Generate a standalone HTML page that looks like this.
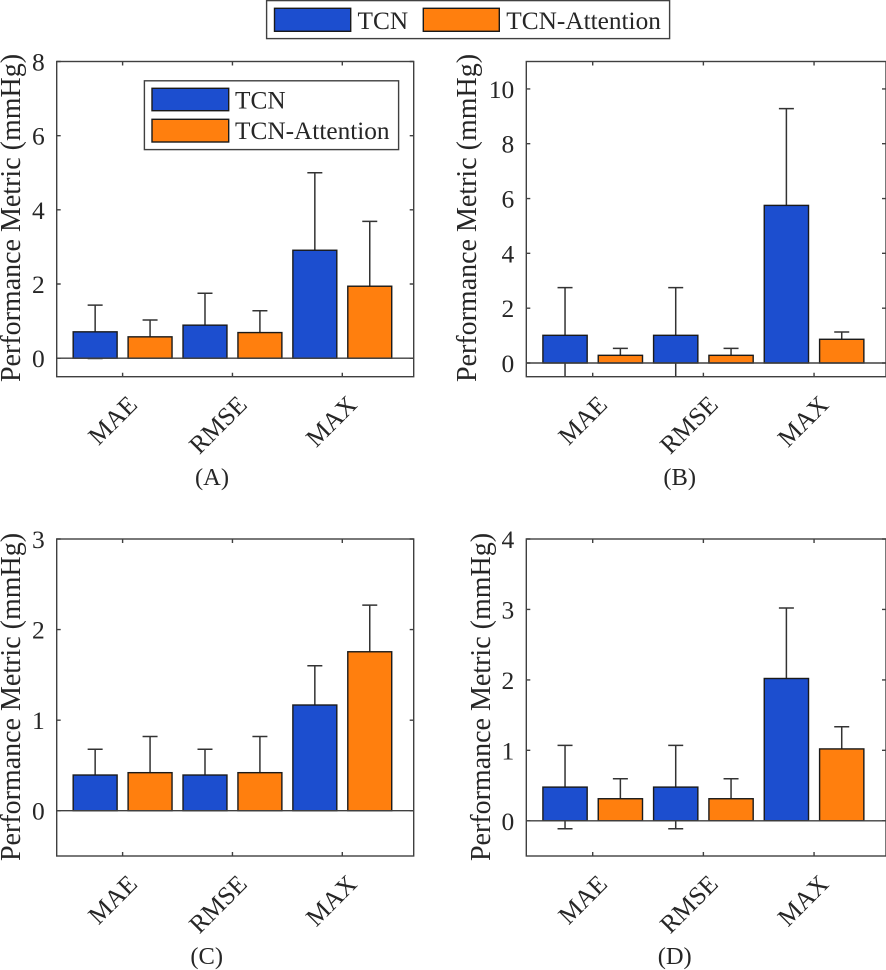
<!DOCTYPE html>
<html lang="en">
<head>
<meta charset="utf-8">
<title>TCN vs TCN-Attention performance metrics</title>
<style>
html,body{margin:0;padding:0;background:#fff;width:886px;height:970px;overflow:hidden}
svg{display:block;font-family:"Liberation Serif",serif;fill:#262626}
text{font-size:24.5px}
.ylab{font-size:28px}
.leg{font-size:25.3px}
.tick{font-size:25.5px}
.cat{font-size:25.5px}
</style>
</head>
<body>
<svg id="fig" xmlns="http://www.w3.org/2000/svg" width="886" height="970" viewBox="0 0 886 970">
  <defs>
    <clipPath id="clip-a"><rect x="56.7" y="61.5" width="357" height="315.2"/></clipPath>
    <clipPath id="clip-b"><rect x="526.3" y="61.5" width="359.7" height="315.2"/></clipPath>
    <clipPath id="clip-c"><rect x="56.7" y="539" width="357" height="317"/></clipPath>
    <clipPath id="clip-d"><rect x="526.3" y="539" width="359.7" height="317"/></clipPath>
  </defs>
  <g id="panels"></g>

  <g>
    <rect x="266.6" y="0.6" width="403" height="38" fill="#fff" stroke="#404040" stroke-width="1.4"/>
    <rect x="274.5" y="8.3" width="76.2" height="23" fill="#1c4ecf" stroke="#1a1a1a" stroke-width="1.4"/>
    <text class="leg" x="357.5" y="29">TCN</text>
    <rect x="423.3" y="8.3" width="76" height="23" fill="#ff7f0e" stroke="#1a1a1a" stroke-width="1.4"/>
    <text class="leg" x="506.3" y="29">TCN-Attention</text>
  </g>

  <g>
    <rect x="144.4" y="80.8" width="254.2" height="68.8" fill="#fff" stroke="#404040" stroke-width="1.4"/>
    <rect x="152" y="88.3" width="76.7" height="22.4" fill="#1c4ecf" stroke="#1a1a1a" stroke-width="1.4"/>
    <text class="leg" x="235" y="108.3">TCN</text>
    <rect x="152" y="119.3" width="76.7" height="22.7" fill="#ff7f0e" stroke="#1a1a1a" stroke-width="1.4"/>
    <text class="leg" x="235" y="139">TCN-Attention</text>
  </g>

  <text class="ylab" transform="translate(20,218) rotate(-90)" text-anchor="middle">Performance Metric (mmHg)</text>
  <text class="ylab" transform="translate(476,218) rotate(-90)" text-anchor="middle">Performance Metric (mmHg)</text>
  <text class="ylab" transform="translate(20,697) rotate(-90)" text-anchor="middle">Performance Metric (mmHg)</text>
  <text class="ylab" transform="translate(490,697) rotate(-90)" text-anchor="middle">Performance Metric (mmHg)</text>

  <text x="212" y="485" text-anchor="middle">(A)</text>
  <text x="679.7" y="485" text-anchor="middle">(B)</text>
  <text x="206.7" y="964" text-anchor="middle">(C)</text>
  <text x="674.7" y="964" text-anchor="middle">(D)</text>
</svg>
<script>
const categories = ['MAE', 'RMSE', 'MAX'];

const tcnA = [0.71, 0.89, 2.91];
const tcnSdA = [0.72, 0.86, 2.09];
const attnA = [0.575, 0.69, 1.94];
const attnSdA = [0.455, 0.59, 1.75];
const yTicksA = [0, 2, 4, 6, 8];
const yLimA = [-0.5, 8];

const tcnB = [1.01, 1.01, 5.75];
const tcnSdB = [1.74, 1.74, 3.53];
const attnB = [0.28, 0.28, 0.865];
const attnSdB = [0.255, 0.255, 0.265];
const yTicksB = [0, 2, 4, 6, 8, 10];
const yLimB = [-0.5, 11];

const tcnC = [0.394, 0.394, 1.167];
const tcnSdC = [0.284, 0.284, 0.433];
const attnC = [0.42, 0.42, 1.755];
const attnSdC = [0.40, 0.40, 0.515];
const yTicksC = [0, 1, 2, 3];
const yLimC = [-0.5, 3];

const tcnD = [0.478, 0.478, 2.02];
const tcnSdD = [0.592, 0.592, 1.0];
const attnD = [0.313, 0.313, 1.02];
const attnSdD = [0.284, 0.284, 0.315];
const yTicksD = [0, 1, 2, 3, 4];
const yLimD = [-0.5, 4];

const xLim = [0.4, 3.65];
const groupOffset = 0.25;
const barWidth = 0.4;
const NS = 'http://www.w3.org/2000/svg';
const AXIS = '#404040';
const EDGE = '#1a1a1a';

function make(tag, parent, attrs) {
  const e = document.createElementNS(NS, tag);
  for (const k in attrs) e.setAttribute(k, attrs[k]);
  parent.appendChild(e);
  return e;
}

function drawPanel(id, box, yLim, yTicks, tcn, tcnSd, attn, attnSd, root) {
  const g = make('g', root, {});
  
  

  const xs = v => box.l + (v - xLim[0]) / (xLim[1] - xLim[0]) * (box.r - box.l);
  const ys = v => box.b - (v - yLim[0]) / (yLim[1] - yLim[0]) * (box.b - box.t);

  const plot = make('g', g, {'clip-path': 'url(#clip-' + id + ')'});
  
  

  const series = [
    {key: 'tcn', off: -groupOffset, vals: tcn, sds: tcnSd, fill: '#1c4ecf'},
    {key: 'attention', off: groupOffset, vals: attn, sds: attnSd, fill: '#ff7f0e'}
  ];

  series.forEach(s => {
    s.vals.forEach((v, i) => {
      const cx = xs(i + 1 + s.off);
      const hi = ys(v + s.sds[i]);
      const lo = ys(v - s.sds[i]);
      const capW = 7.5;
      const err = make('path', plot, {
        d: 'M' + cx + ' ' + hi + 'V' + lo +
           'M' + (cx - capW) + ' ' + hi + 'H' + (cx + capW) +
           'M' + (cx - capW) + ' ' + lo + 'H' + (cx + capW),
        fill: 'none', stroke: '#333', 'stroke-width': 1.5
      });
      
      
    });
  });

  series.forEach(s => {
    s.vals.forEach((v, i) => {
      const x0 = xs(i + 1 + s.off - barWidth / 2);
      const x1 = xs(i + 1 + s.off + barWidth / 2);
      const bar = make('rect', plot, {
        x: x0, y: ys(v), width: x1 - x0, height: ys(0) - ys(v),
        fill: s.fill, stroke: EDGE, 'stroke-width': 1.4
      });
      
      
    });
  });

  const base = make('line', g, {x1: box.l, x2: box.r, y1: ys(0), y2: ys(0), stroke: AXIS, 'stroke-width': 1.4});
  
  

  const frame = make('rect', g, {x: box.l, y: box.t, width: box.r - box.l, height: box.b - box.t, fill: 'none', stroke: AXIS, 'stroke-width': 1.4});
  
  

  yTicks.forEach(t => {
    const y = ys(t);
    const mark = make('path', g, {d: 'M' + box.l + ' ' + y + 'h4M' + box.r + ' ' + y + 'h-4', stroke: AXIS, 'stroke-width': 1.4, fill: 'none'});
    
    
    const label = make('text', g, {class: 'tick', x: box.l - 12, y: y + 9, 'text-anchor': 'end'});
    label.textContent = t;
    
    
  });

  categories.forEach((c, i) => {
    const x = xs(i + 1);
    const mark = make('path', g, {d: 'M' + x + ' ' + box.t + 'v4M' + x + ' ' + box.b + 'v-4', stroke: AXIS, 'stroke-width': 1.4, fill: 'none'});
    
    
    const label = make('text', g, {class: 'cat', transform: 'translate(' + (x + 16) + ',' + (box.b + 29.5) + ') rotate(-45)', 'text-anchor': 'end'});
    label.textContent = c;
    
    
  });
}

const root = document.getElementById('panels');
drawPanel('a', {l: 56.7, r: 413.7, t: 61.5, b: 376.7}, yLimA, yTicksA, tcnA, tcnSdA, attnA, attnSdA, root);
drawPanel('b', {l: 526.3, r: 886, t: 61.5, b: 376.7}, yLimB, yTicksB, tcnB, tcnSdB, attnB, attnSdB, root);
drawPanel('c', {l: 56.7, r: 413.7, t: 539, b: 856}, yLimC, yTicksC, tcnC, tcnSdC, attnC, attnSdC, root);
drawPanel('d', {l: 526.3, r: 886, t: 539, b: 856}, yLimD, yTicksD, tcnD, tcnSdD, attnD, attnSdD, root);
</script>
</body>
</html>
